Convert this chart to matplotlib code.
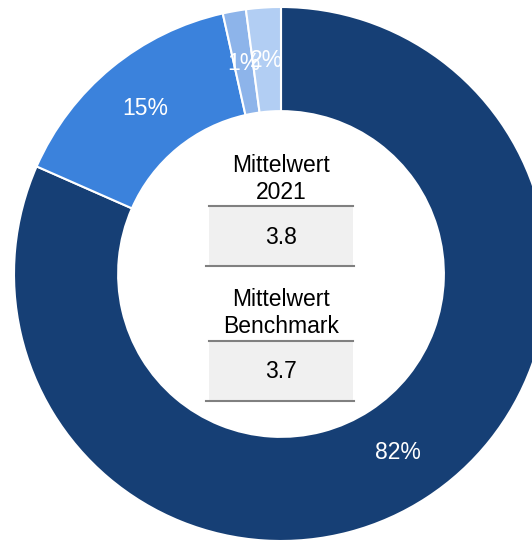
import matplotlib.pyplot as plt
from matplotlib.patches import Rectangle

plt.rcParams['font.family'] = ['Liberation Sans', 'DejaVu Sans']

# share of answers (clockwise from top)
shares = [81.6, 14.9, 1.4, 2.1]
share_labels = ["82%", "15%", "1%", "2%"]
colors = ["#163f75", "#3b82dc", "#8db4ea", "#b2cef3"]

# key figures shown in the hole
kpi_titles = ["Mittelwert\n2021", "Mittelwert\nBenchmark"]
kpi_values = ["3.8", "3.7"]

W, H = 532, 542
cx, cy = 281, 274   # pixel position of the donut centre
R = 267

fig = plt.figure(figsize=(W / 100, H / 100), dpi=100)
ax = fig.add_axes([0, 0, 1, 1])

wedges, texts = ax.pie(shares, radius=R, startangle=90, counterclock=False,
                       colors=colors, labels=share_labels, labeldistance=0.8,
                       wedgeprops=dict(width=R * 0.39, edgecolor="white", linewidth=1.5),
                       textprops=dict(color="white", fontsize=16.5, ha="center", va="center"))

# pie resets the limits, so set them afterwards
ax.set_xlim(-cx, W - cx)
ax.set_ylim(-(H - cy), cy)
ax.set_aspect("equal")
ax.axis("off")


def py(y):
    # convert pixel row to data y
    return cy - y


# boxes: title centre, box top, box bottom, value centre (pixel rows)
layout = [(179, 206, 266, 238), (313, 341, 401, 372)]
for (t_y, top, bot, v_y), title, val in zip(layout, kpi_titles, kpi_values):
    ax.text(0, py(t_y), title, ha="center", va="center", fontsize=16.5,
            color="black", linespacing=1.17)
    ax.add_patch(Rectangle((209 - cx, py(bot)), 144, bot - top,
                           facecolor="#f0f0f0", edgecolor="none"))
    ax.plot([209 - cx, 353 - cx], [py(top), py(top)], color="#808080", lw=1.5)
    ax.plot([206 - cx, 354 - cx], [py(bot), py(bot)], color="#808080", lw=1.5)
    ax.text(0, py(v_y), val, ha="center", va="center", fontsize=16.5, color="black")

fig.savefig("out.png", dpi=100)
